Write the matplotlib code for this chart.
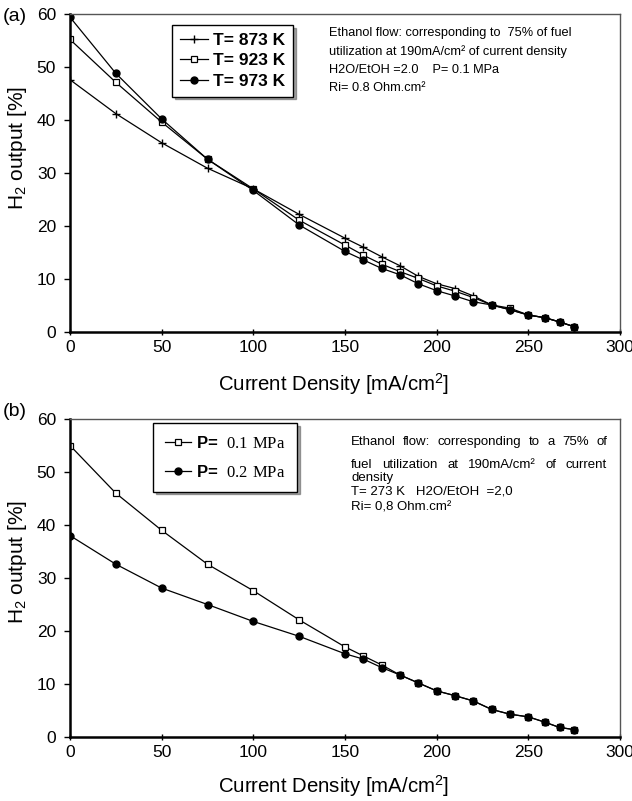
import matplotlib
matplotlib.use("Agg")
import matplotlib.pyplot as plt

plt.rcParams['font.family'] = ['Liberation Sans', 'DejaVu Sans']
plt.rcParams['mathtext.fontset'] = 'custom'
plt.rcParams['mathtext.rm'] = 'Liberation Serif'

# ---------------- data ----------------
current = [0, 25, 50, 75, 100, 125, 150, 160, 170, 180, 190, 200, 210, 220,
           230, 240, 250, 259, 267, 275]

h2_873 = [47.6, 41.2, 35.7, 30.9, 27.0, 22.2, 17.7, 16.0, 14.2, 12.5, 10.5,
          9.1, 8.2, 6.8, 5.1, 4.2, 3.2, 2.7, 1.9, 1.0]
h2_923 = [55.2, 47.1, 39.6, 32.6, 27.0, 21.1, 16.4, 14.5, 12.8, 11.4, 10.1,
          8.7, 7.7, 6.5, 5.1, 4.5, 3.2, 2.7, 1.9, 1.0]
h2_973 = [59.4, 48.8, 40.2, 32.6, 26.7, 20.2, 15.2, 13.6, 12.0, 10.8, 9.1,
          7.8, 6.8, 5.7, 5.1, 4.2, 3.2, 2.7, 1.9, 1.0]

h2_p01 = [55.0, 46.0, 39.0, 32.6, 27.6, 22.1, 17.0, 15.3, 13.6, 11.7, 10.2,
          8.7, 7.8, 6.8, 5.2, 4.3, 3.8, 2.8, 1.8, 1.4]
h2_p02 = [38.0, 32.6, 28.1, 25.0, 21.8, 19.0, 15.7, 14.7, 13.1, 11.7, 10.2,
          8.7, 7.8, 6.8, 5.2, 4.3, 3.8, 2.8, 1.8, 1.4]

labels_a = ['T= 873 K', 'T= 923 K', 'T= 973 K']
labels_b = [r'P=  $\mathrm{0.1\ MPa}$', r'P=  $\mathrm{0.2\ MPa}$']
xticks = [0, 50, 100, 150, 200, 250, 300]
yticks = [0, 10, 20, 30, 40, 50, 60]

note_a = ["Ethanol flow: corresponding to  75% of fuel",
          "utilization at 190mA/cm\u00b2 of current density",
          "H2O/EtOH =2.0    P= 0.1 MPa",
          "Ri= 0.8 Ohm.cm\u00b2"]
note_b = ["Ethanol flow: corresponding to a 75% of",
          "fuel utilization at 190mA/cm\u00b2 of current",
          "density",
          "T= 273 K   H2O/EtOH  =2,0",
          "Ri= 0,8 Ohm.cm\u00b2"]

# ---------------- figure ----------------
W, H = 632, 801
fig = plt.figure(figsize=(W / 100, H / 100), dpi=100)

def frac(left, top, right, bottom):
    return [left / W, 1 - bottom / H, (right - left) / W, (bottom - top) / H]

ax_a = fig.add_axes(frac(70, 14, 620, 332))
ax_b = fig.add_axes(frac(70, 419, 620, 737))

def style_axis(ax, xlab_y, ylab_y):
    ax.set_xlim(0, 300)
    ax.set_ylim(0, 60)
    ax.set_xticks(xticks)
    ax.set_yticks(yticks)
    ax.tick_params(axis='x', labelsize=12.5, direction='inout', length=5,
                   width=1, color='black', pad=3)
    ax.tick_params(axis='y', labelsize=12.5, direction='out', length=4,
                   width=1, color='black', pad=6)
    for s in ['left', 'bottom']:
        ax.spines[s].set_linewidth(1.8)
        ax.spines[s].set_color('black')
    for s in ['top', 'right']:
        ax.spines[s].set_linewidth(1.0)
        ax.spines[s].set_color('#555555')
    ax.set_xlabel(r'Current Density [mA/cm$\mathregular{^2}$]', fontsize=14.7)
    ax.set_ylabel(r'H$\mathregular{_2}$ output [%]', fontsize=15)
    ax.xaxis.set_label_coords(0.48, xlab_y)
    ax.yaxis.set_label_coords(-0.075, ylab_y)

lw = 0.9
# panel a
l1, = ax_a.plot(current, h2_873, color='black', lw=lw, marker='+', ms=6,
                mew=1.0, label=labels_a[0])
l2, = ax_a.plot(current, h2_923, color='black', lw=lw, marker='s', ms=5,
                mfc='white', mec='black', mew=0.9, label=labels_a[1])
l3, = ax_a.plot(current, h2_973, color='black', lw=lw, marker='o', ms=5,
                mfc='black', mec='black', label=labels_a[2])
style_axis(ax_a, -0.124, 0.579)
leg_a = ax_a.legend(handles=[l1, l2, l3], loc='upper left',
                    bbox_to_anchor=((172 - 70) / 550, 1 - (25 - 14) / 318),
                    frameon=True, fancybox=False, shadow=True,
                    prop={'size': 12.5, 'weight': 'bold'}, handlelength=1.6,
                    handletextpad=0.3, borderpad=0.45, labelspacing=0.3,
                    borderaxespad=0)
leg_a.get_frame().set_edgecolor('black')
leg_a.get_frame().set_linewidth(1.0)

# panel b
m1, = ax_b.plot(current, h2_p01, color='black', lw=lw, marker='s', ms=5,
                mfc='white', mec='black', mew=0.9, label=labels_b[0])
m2, = ax_b.plot(current, h2_p02, color='black', lw=lw, marker='o', ms=5,
                mfc='black', mec='black', label=labels_b[1])
style_axis(ax_b, -0.114, 0.55)
leg_b = ax_b.legend(handles=[m1, m2], loc='upper left',
                    bbox_to_anchor=((153 - 70) / 550, 1 - (423 - 419) / 318),
                    frameon=True, fancybox=False, shadow=True,
                    prop={'size': 12, 'weight': 'bold'}, handlelength=1.6,
                    handletextpad=0.3, borderpad=0.7, labelspacing=0.8,
                    borderaxespad=0)
leg_b.get_frame().set_edgecolor('black')
leg_b.get_frame().set_linewidth(1.0)

# panel labels
fig.text(3 / W, 1 - 21 / H, '(a)', fontsize=14, ha='left', va='baseline')
fig.text(3 / W, 1 - 416 / H, '(b)', fontsize=14, ha='left', va='baseline')

# annotation a (left aligned)
ys_a = [33, 52, 70, 88]
for line, y in zip(note_a, ys_a):
    fig.text(329 / W, 1 - y / H, line, fontsize=9.2, ha='left', va='center')

# annotation b (first two lines justified)
xl, xr = 351, 607
ys_b = [442, 465, 478, 492, 507]
fig.canvas.draw()
renderer = fig.canvas.get_renderer()
for i, (line, y) in enumerate(zip(note_b, ys_b)):
    yf = 1 - y / H
    if i < 2:
        words = line.split()
        arts = [fig.text(0, yf, w, fontsize=9.5, ha='left', va='center')
                for w in words]
        widths = [a.get_window_extent(renderer).width for a in arts]
        gap = ((xr - xl) - sum(widths)) / (len(words) - 1)
        x = xl
        for a, w in zip(arts, widths):
            a.set_x(x / W)
            x += w + gap
    else:
        fig.text(xl / W, yf, line, fontsize=9.5, ha='left', va='center')

fig.savefig('out.png', dpi=100)
